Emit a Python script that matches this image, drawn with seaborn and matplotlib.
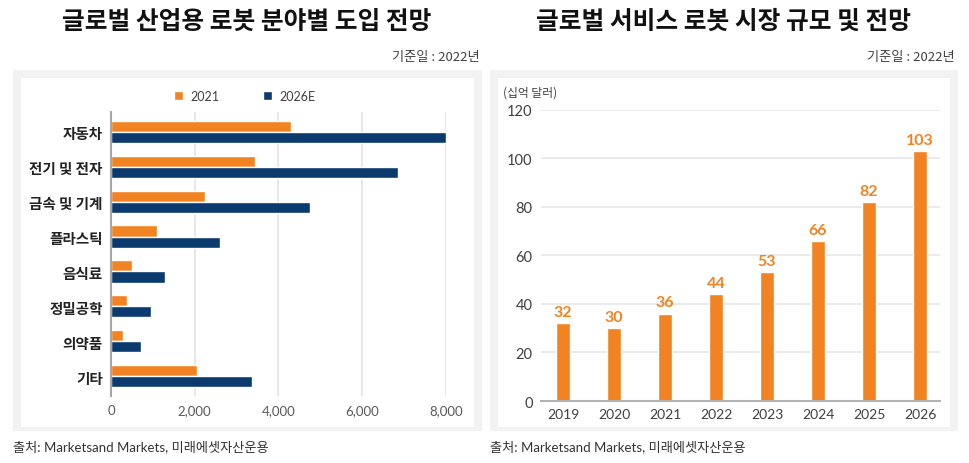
import matplotlib
matplotlib.use("Agg")
import matplotlib.pyplot as plt
from matplotlib.patches import Rectangle
import seaborn as sns
import pandas as pd

# ---- data ----
industries = ["자동차", "전기 및 전자", "금속 및 기계", "플라스틱", "음식료", "정밀공학", "의약품", "기타"]
vals_2021 = [4300, 3450, 2250, 1100, 500, 380, 290, 2050]
vals_2026 = [8000, 6850, 4750, 2600, 1300, 950, 720, 3370]
series_names = ["2021", "2026E"]
left_xticks = [0, 2000, 4000, 6000, 8000]

years = ["2019", "2020", "2021", "2022", "2023", "2024", "2025", "2026"]
market = [32, 30, 36, 44, 53, 66, 82, 103]
right_yticks = [0, 20, 40, 60, 80, 100, 120]

ORANGE = "#F28322"
NAVY = "#0A3A6E"

sns.set_theme(style="white")
plt.rcParams["font.family"] = ["Lato", "Noto Sans CJK KR", "DejaVu Sans"]
KR = ["Noto Sans CJK KR", "DejaVu Sans"]

W, H = 970, 464
fig = plt.figure(figsize=(W / 100, H / 100), dpi=100)
fig.patch.set_facecolor("white")

def fx(x):
    return x / W

def fy(y):
    return 1 - y / H

# panel backgrounds
for (x0, x1) in [(13, 482), (490, 958)]:
    fig.patches.append(Rectangle((fx(x0), fy(432)), fx(x1 - x0), (432 - 71) / H,
                                 transform=fig.transFigure, facecolor="#f2f2f2",
                                 edgecolor="none", zorder=-10))
    fig.patches.append(Rectangle((fx(x0 + 8), fy(428)), fx(x1 - x0 - 16), (428 - 79) / H,
                                 transform=fig.transFigure, facecolor="white",
                                 edgecolor="none", zorder=-9))

# titles
fig.text(fx(247), fy(22), "글로벌 산업용 로봇 분야별 도입 전망", ha="center", va="center",
         fontsize=17.8, fontweight="bold", family=KR, color="#111111")
fig.text(fx(724), fy(22), "글로벌 서비스 로봇 시장 규모 및 전망", ha="center", va="center",
         fontsize=17.8, fontweight="bold", family=KR, color="#111111")
for xr in (480, 955):
    fig.text(fx(xr), fy(58), "기준일 : 2022년", ha="right", va="center",
             fontsize=9.5, family=KR, color="#404040")
for xl in (13, 490):
    fig.text(fx(xl), fy(447), "출처: Marketsand Markets, 미래에셋자산운용", ha="left", va="center",
             fontsize=9.5, family=["Lato", "Noto Sans CJK KR"], color="#333333")

# ---- left chart ----
df_left = pd.DataFrame({
    "industry": industries * 2,
    "value": vals_2021 + vals_2026,
    "series": [series_names[0]] * len(industries) + [series_names[1]] * len(industries),
})
axl = fig.add_axes([fx(111), fy(397), fx(446 - 111), (397 - 113) / H])
axl.set_facecolor("none")
sns.barplot(data=df_left, y="industry", x="value", hue="series", orient="h",
            palette=[ORANGE, NAVY], width=0.64, ax=axl, order=industries,
            hue_order=series_names, saturation=1, legend=True)
axl.set_xlim(0, 8000)
axl.set_ylim(7.57, -0.57)
axl.set_xticks(left_xticks)
axl.set_xticklabels([f"{v:,}" for v in left_xticks], fontsize=9.5, color="#595959")
axl.set_yticks(range(len(industries)))
axl.set_yticklabels(industries, fontsize=10.5, fontweight="bold", family=KR, color="#222222")
axl.tick_params(axis="both", length=0, pad=6)
axl.set_xlabel("")
axl.set_ylabel("")
axl.grid(axis="x", color="#e3e3e3", lw=1.2)
axl.set_axisbelow(True)
for s in ["top", "right", "bottom"]:
    axl.spines[s].set_visible(False)
axl.spines["left"].set_color("#a6a6a6")
axl.spines["left"].set_linewidth(1.5)
handles, labels = axl.get_legend_handles_labels()
axl.get_legend().remove()
fig.legend(handles, labels, loc="center", bbox_to_anchor=(fx(245), fy(97)), ncol=2,
           frameon=False, fontsize=9, handlelength=0.7, handleheight=0.7,
           columnspacing=3.5, handletextpad=0.6, labelcolor="#404040")

# ---- right chart ----
df_right = pd.DataFrame({"year": years, "value": market})
axr = fig.add_axes([fx(541), fy(402), fx(940 - 541), (402 - 110.7) / H])
axr.set_facecolor("none")
sns.barplot(data=df_right, x="year", y="value", color=ORANGE, width=0.28,
            saturation=1, ax=axr)
axr.set_ylim(0, 120)
axr.set_xlim(-0.43, 7.39)
axr.set_yticks(right_yticks)
axr.set_yticklabels([str(v) for v in right_yticks], fontsize=10.5, color="#404040")
axr.set_xticks(range(len(years)))
axr.set_xticklabels(years, fontsize=10, color="#404040")
axr.tick_params(axis="y", length=0, pad=6)
axr.tick_params(axis="x", length=0, pad=5)
axr.set_xlabel("")
axr.set_ylabel("")
axr.grid(axis="y", color="#e6e6e6", lw=1.2)
axr.set_axisbelow(True)
for s in ["top", "right", "left"]:
    axr.spines[s].set_visible(False)
axr.spines["bottom"].set_color("#b3b3b3")
axr.spines["bottom"].set_linewidth(1.5)
for i, v in enumerate(market):
    axr.annotate(str(v), (i, v), xytext=(0, 3), textcoords="offset points",
                 ha="center", va="bottom", fontsize=11.5, fontweight="bold", color=ORANGE)
fig.text(fx(503), fy(93), "(십억 달러)", ha="left", va="center", fontsize=8.5,
         family=KR, color="#404040")

fig.savefig("out.png", dpi=100)
